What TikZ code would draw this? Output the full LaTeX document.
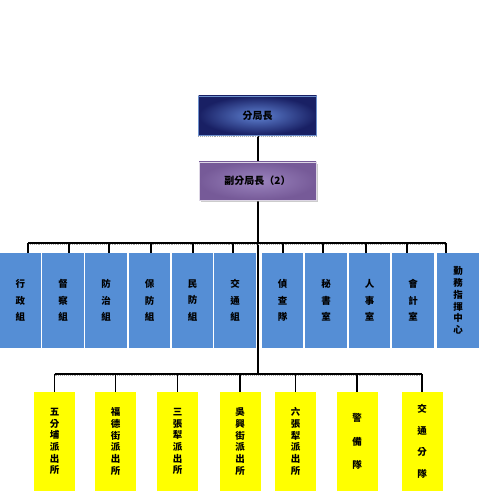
\documentclass[tikz,border=0pt]{standalone}
\usepackage{fontspec}
\usetikzlibrary{shadows,backgrounds}
\newfontfamily\cjk{Noto Sans CJK TC}
\definecolor{chiefedge}{RGB}{25,32,100}
\definecolor{chiefmid}{RGB}{95,130,210}
\definecolor{deputyedge}{RGB}{118,90,152}
\definecolor{deputymid}{RGB}{155,132,190}
\definecolor{groupblue}{RGB}{85,142,213}
\definecolor{stationyellow}{RGB}{255,255,0}
\def\boxfont{\cjk\bfseries\fontsize{9.5}{16.5}\selectfont}
\def\tallfont{\cjk\bfseries\fontsize{9.5}{11.7}\selectfont}

\begin{document}
\begin{tikzpicture}[x=1pt, y=-1pt,
          every node/.style = {inner sep=0pt, align=center},
          bus/.style = {line width=1.8pt},
          busshadow/.style = {draw=gray!70, densely dotted, line width=0.9pt},
          chief/.style = {minimum width=118pt, minimum height=39pt, draw={rgb,255:red,110;green,145;blue,205},
                          inner color=chiefmid, outer color=chiefedge,
                          font=\cjk\bfseries\fontsize{10}{12}\selectfont},
          deputy/.style = {minimum width=117pt, minimum height=38pt, draw=white!75!deputyedge,
                          inner color=deputymid, outer color=deputyedge,
                          drop shadow={shadow xshift=2pt, shadow yshift=-2pt, fill=gray!80},
                          font=\cjk\bfseries\fontsize{10}{12}\selectfont},
          group/.style = {fill=groupblue, minimum width=41.5pt, minimum height=95pt, font=\boxfont},
          station/.style = {fill=stationyellow, minimum width=41pt, minimum height=99pt, font=\tallfont}
          ]
  \useasboundingbox (0,0) rectangle (499,492);

  % head of the branch
  \node[chief]  (chief)  at (257.5,115.5) {分局長};
  \node[deputy] (deputy) at (257.5,181)   {副分局長（2）};

  % groups, units and offices
  \node[group] (g1)  at (20.5,300.5)  {行\\政\\組};
  \node[group] (g2)  at (63,300.5)    {督\\察\\組};
  \node[group] (g3)  at (106,300.5)   {防\\治\\組};
  \node[group] (g4)  at (149.5,300.5) {保\\防\\組};
  \node[group] (g5)  at (192.5,300.5) {民\\防\\組};
  \node[group] (g6)  at (235,300.5)   {交\\通\\組};
  \node[group] (g7)  at (282.5,300.5) {偵\\查\\隊};
  \node[group] (g8)  at (326,300.5)   {秘\\書\\室};
  \node[group] (g9)  at (369.5,300.5) {人\\事\\室};
  \node[group] (g10) at (413,300.5)   {會\\計\\室};
  \node[group, font=\tallfont] (g11) at (458,300.5) {勤\\務\\指\\揮\\中\\心};

  % police stations
  \node[station] (s1) at (54.5,441.5)  {五\\分\\埔\\派\\出\\所};
  \node[station] (s2) at (115.5,441.5) {福\\德\\街\\派\\出\\所};
  \node[station] (s3) at (177.5,441.5) {三\\張\\犁\\派\\出\\所};
  \node[station] (s4) at (240,441.5)   {吳\\興\\街\\派\\出\\所};
  \node[station] (s5) at (295.5,441.5) {六\\張\\犁\\派\\出\\所};
  \node[station] (s6) at (357,441.5)   {警\\\\備\\\\隊};
  \node[station, font=\cjk\bfseries\fontsize{9.5}{21.5}\selectfont] (s7) at (422,441.5) {交\\通\\分\\隊};

  \coordinate (busA) at (258,243);
  \coordinate (busB) at (258,374);

  % trunk, behind the deputy box
  \begin{pgfonlayer}{background}
    \draw[bus] (chief.south -| busA) -- (busB);
  \end{pgfonlayer}
  \draw[busshadow] ([yshift=-1.2pt]chief.south west) -- ([yshift=-1.2pt]chief.south east);

  % upper bus
  \draw[busshadow] (28,244.8) -- (446,244.8);
  \draw[bus] (28,243) -- (446,243);
  \foreach \x/\n in {28/g1, 69/g2, 109/g3, 151/g4, 193/g5, 233/g6,
                     283/g7, 323/g8, 366/g9, 407/g10, 446/g11}
    \draw[bus] (\x,243) -- (\x,243 |- \n.north);

  % lower bus
  \draw[busshadow] ([yshift=-1.8pt]s1.north |- busB) -- ([yshift=-1.8pt]s7.north |- busB);
  \draw[bus] (s1.north |- busB) -- (s7.north |- busB);
  \draw[bus] (s1.north |- busB) -- (s1.north);
  \draw[bus] (s2.north |- busB) -- (s2.north);
  \draw[bus] (s3.north |- busB) -- (s3.north);
  \draw[bus] (s4.north |- busB) -- (s4.north);
  \draw[bus] (s5.north |- busB) -- (s5.north);
  \draw[bus] (s6.north |- busB) -- (s6.north);
  \draw[bus] (s7.north |- busB) -- (s7.north);
\end{tikzpicture}
\end{document}
